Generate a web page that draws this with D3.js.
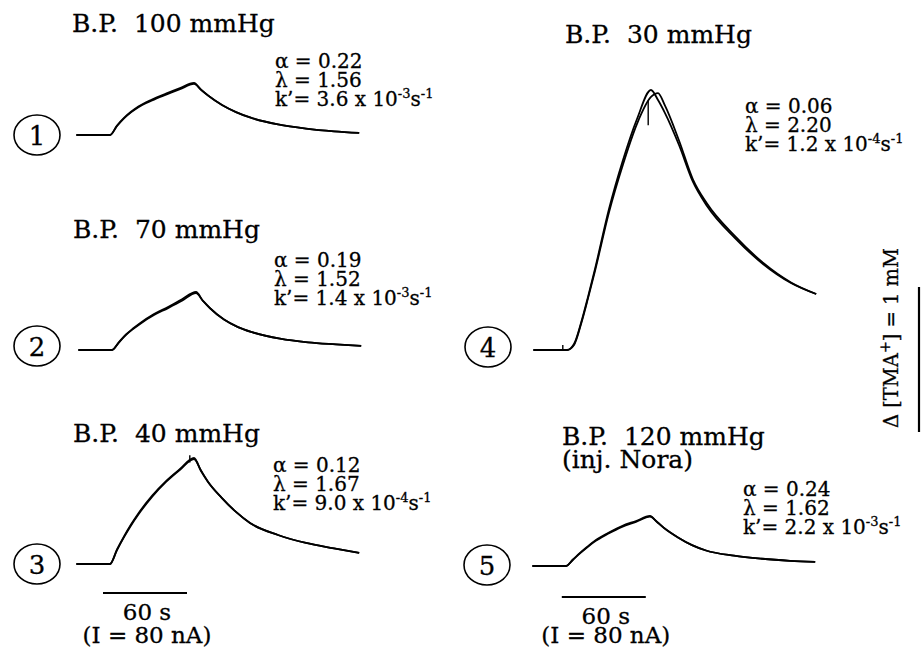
<!DOCTYPE html>
<html><head><meta charset="utf-8">
<title>TMA+ concentration curves at different blood pressures</title>
<script src="https://cdn.jsdelivr.net/npm/d3@7/dist/d3.min.js"></script>
<style>
body { margin: 0; background: #fff; }
svg { display: block; font-family: "DejaVu Serif", serif; }
text { fill: #000; stroke: #000; stroke-width: 0.3px; }
.trace { fill: none; stroke: #000; stroke-width: 1.8px; stroke-linejoin: round; }
.artifact { stroke: #000; stroke-width: 1.4px; }
.bar { stroke: #000; stroke-width: 2.2px; }
.title { font-size: 25px; white-space: pre; }
.param { font-size: 20px; }
.sup { font-size: 13px; }
.num { font-size: 26px; }
.barlabel { font-size: 23px; }
.ring { fill: none; stroke: #000; stroke-width: 1.6px; }
</style>
</head>
<body>
<svg id="chart" width="922" height="650"></svg>
<script>
// time after start of iontophoresis (s)
const timeS = [-24, 0, 5, 10, 15, 20, 30, 40, 50, 60, 65, 70, 80, 90, 100, 120, 140, 160, 178];

// delta [TMA+] in mM, measured and fitted curves
const p1Measured = [0, 0, .065, .118, .160, .195, .245, .286, .324, .359, .312, .272, .207, .158, .121, .073, .044, .025, .014];
const p1Fitted   = [0, 0, .062, .115, .156, .190, .238, .278, .316, .352, .313, .273, .207, .158, .121, .073, .044, .025, .014];
const p2Measured = [0, 0, .055, .107, .148, .185, .248, .297, .350, .400, .338, .288, .210, .158, .123, .078, .053, .039, .028];
const p2Fitted   = [0, 0, .053, .104, .144, .180, .241, .289, .340, .392, .339, .289, .210, .158, .123, .078, .053, .039, .028];
const p3Measured = [0, 0, .100, .190, .272, .345, .470, .572, .655, .731, .641, .566, .455, .359, .283, .200, .145, .108, .076];
const p3Fitted   = [0, 0, .096, .185, .266, .338, .463, .566, .650, .724, .645, .568, .455, .359, .283, .200, .145, .108, .076];
const p4Measured = [0, 0, .041, .186, .366, .559, .972, 1.310, 1.593, 1.793, 1.724, 1.634, 1.414, 1.159, .993, .772, .593, .462, .386];
const p4Fitted   = [0, 0, .035, .178, .356, .545, .950, 1.280, 1.560, 1.745, 1.772, 1.685, 1.445, 1.175, 1.010, .785, .602, .466, .386];
const p5Measured = [0, 0, .045, .090, .131, .170, .228, .276, .310, .345, .303, .262, .197, .144, .107, .071, .050, .036, .028];
const p5Fitted   = [0, 0, .043, .087, .127, .165, .222, .270, .304, .340, .305, .263, .197, .144, .107, .071, .050, .036, .028];

// small recording artifacts: panel index, time (s), from / to (mM)
const artifactPanel = [2, 3, 3];
const artifactTime  = [57, 58, -3];
const artifactFrom  = [.70, 1.55, 0];
const artifactTo    = [.75, 1.72, .035];

const panelNumbers  = ["1", "2", "3", "4", "5"];
const pressureTitle = ["B.P.  100 mmHg", "B.P.  70 mmHg", "B.P.  40 mmHg", "B.P.  30 mmHg", "B.P.  120 mmHg"];
const titleNote     = ["", "", "", "", "(inj. Nora)"];
const alphaValues   = ["0.22", "0.19", "0.12", "0.06", "0.24"];
const lambdaValues  = ["1.56", "1.52", "1.67", "2.20", "1.62"];
const kMantissa     = ["3.6", "1.4", "9.0", "1.2", "2.2"];
const kExponent     = ["-3", "-3", "-4", "-4", "-3"];

const timeBarS = 60;
const concBarMM = 1;

const measured = [p1Measured, p2Measured, p3Measured, p4Measured, p5Measured];
const fitted = [p1Fitted, p2Fitted, p3Fitted, p4Fitted, p5Fitted];

// layout of each panel (pixels)
const layout = [
  {ox: 110, oy: 135, tx: 72,  ty: 32,  px: 275, py: 68,  cx: 37,  cy: 135},
  {ox: 112, oy: 350, tx: 73,  ty: 238, px: 274, py: 267, cx: 37,  cy: 346},
  {ox: 110, oy: 564, tx: 73,  ty: 442, px: 273, py: 472, cx: 37,  cy: 564, bar: {t0: -5, y: 593}},
  {ox: 567, oy: 350, tx: 565, ty: 43,  px: 745, py: 113, cx: 488, cy: 347},
  {ox: 566, oy: 566, tx: 562, ty: 445, px: 743, py: 496, cx: 487, cy: 565, bar: {t0: -3, y: 597}}
];

const svg = d3.select("#chart");

const x = d3.scaleLinear().domain([0, 60]).range([0, 84]);
const y = d3.scaleLinear().domain([0, 1]).range([0, -145]);

const line = d3.line()
  .x(d => x(d[0]))
  .y(d => y(d[1]))
  .curve(d3.curveMonotoneX);

layout.forEach((L, i) => {
  const g = svg.append("g").attr("transform", `translate(${L.ox},${L.oy})`);

  [fitted[i], measured[i]].forEach(vals => {
    g.append("path")
      .attr("class", "trace")
      .attr("d", line(timeS.map((t, j) => [t, vals[j]])));
  });

  artifactPanel.forEach((p, k) => {
    if (p !== i) return;
    g.append("line").attr("class", "artifact")
      .attr("x1", x(artifactTime[k])).attr("x2", x(artifactTime[k]))
      .attr("y1", y(artifactFrom[k])).attr("y2", y(artifactTo[k]));
  });

  // title
  svg.append("text").attr("class", "title")
    .attr("x", L.tx).attr("y", L.ty)
    .text(pressureTitle[i]);
  if (titleNote[i]) {
    svg.append("text").attr("class", "title")
      .attr("x", L.tx).attr("y", L.ty + 23)
      .text(titleNote[i]);
  }

  // circled number
  svg.append("ellipse").attr("class", "ring")
    .attr("cx", L.cx).attr("cy", L.cy).attr("rx", 23).attr("ry", 20);
  svg.append("text").attr("class", "num")
    .attr("x", L.cx).attr("y", L.cy + 9.5)
    .attr("text-anchor", "middle")
    .text(panelNumbers[i]);

  // fitted parameters
  const lh = 19;
  svg.append("text").attr("class", "param")
    .attr("x", L.px).attr("y", L.py)
    .text("\u03b1 = " + alphaValues[i]);
  svg.append("text").attr("class", "param")
    .attr("x", L.px).attr("y", L.py + lh)
    .text("\u03bb = " + lambdaValues[i]);
  const k = svg.append("text").attr("class", "param")
    .attr("x", L.px).attr("y", L.py + 2 * lh);
  k.append("tspan").text("k\u2019= " + kMantissa[i] + " x 10");
  k.append("tspan").attr("class", "sup").attr("dy", -8).text(kExponent[i]);
  k.append("tspan").attr("dy", 8).text("s");
  k.append("tspan").attr("class", "sup").attr("dy", -8).text("-1");

  // 60 s time bar
  if (L.bar) {
    const bx0 = L.ox + x(L.bar.t0), bx1 = L.ox + x(L.bar.t0 + timeBarS);
    svg.append("line").attr("class", "bar")
      .attr("x1", bx0).attr("x2", bx1)
      .attr("y1", L.bar.y).attr("y2", L.bar.y);
    svg.append("text").attr("class", "barlabel")
      .attr("x", (bx0 + bx1) / 2 + 2).attr("y", L.bar.y + 27)
      .attr("text-anchor", "middle")
      .text(timeBarS + " s");
    svg.append("text").attr("class", "barlabel")
      .attr("x", (bx0 + bx1) / 2 + 2).attr("y", 643)
      .attr("text-anchor", "middle")
      .text("(I = 80 nA)");
  }
});

// concentration scale bar
const cbTop = 287;
svg.append("line").attr("class", "bar")
  .attr("x1", 919).attr("x2", 919)
  .attr("y1", cbTop).attr("y2", cbTop - y(concBarMM));

const cl = svg.append("text")
  .attr("transform", "translate(898,338) rotate(-90)")
  .attr("text-anchor", "middle")
  .style("font-size", "19.5px");
cl.append("tspan").text("\u0394 [TMA");
cl.append("tspan").style("font-size", "14px").attr("dy", -8).text("+");
cl.append("tspan").attr("dy", 8).text("] = " + concBarMM + " mM");
</script>
</body></html>
